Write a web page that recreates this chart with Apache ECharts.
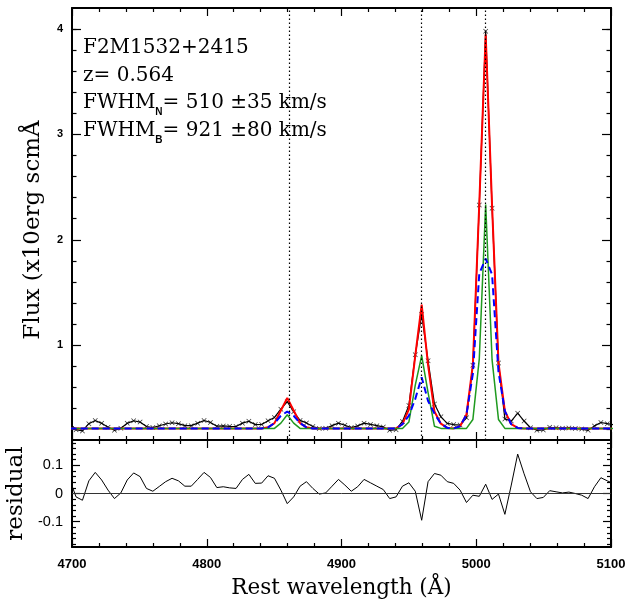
<!DOCTYPE html>
<html>
<head>
<meta charset="utf-8">
<script src="https://cdn.jsdelivr.net/npm/echarts@6/dist/echarts.min.js"></script>
<style>
html,body{margin:0;padding:0;background:#fff;}
#chart{width:631px;height:605px;}
</style>
</head>
<body>
<div id="chart"></div>
<script>
// Rest wavelength grid (Å)
const wavelength = [
4698.25, 4703.00, 4707.75, 4712.50, 4717.25, 4722.00, 4726.75, 4731.50, 4736.25, 4741.00,
4745.75, 4750.50, 4755.25, 4760.00, 4764.75, 4769.50, 4774.25, 4779.00, 4783.75, 4788.50,
4793.25, 4798.00, 4802.75, 4807.50, 4812.25, 4817.00, 4821.75, 4826.50, 4831.25, 4836.00,
4840.75, 4845.50, 4850.25, 4855.00, 4859.75, 4864.50, 4869.25, 4874.00, 4878.75, 4883.50,
4888.25, 4893.00, 4897.75, 4902.50, 4907.25, 4912.00, 4916.75, 4921.50, 4926.25, 4931.00,
4935.75, 4940.50, 4945.25, 4950.00, 4954.75, 4959.50, 4964.25, 4969.00, 4973.75, 4978.50,
4983.25, 4988.00, 4992.75, 4997.50, 5002.25, 5007.00, 5011.75, 5016.50, 5021.25, 5026.00,
5030.75, 5035.50, 5040.25, 5045.00, 5049.75, 5054.50, 5059.25, 5064.00, 5068.75, 5073.50,
5078.25, 5083.00, 5087.75, 5092.50, 5097.25, 5102.00
];
// Observed flux
const flux = [
0.260, 0.198, 0.186, 0.255, 0.285, 0.258, 0.222, 0.192, 0.212, 0.258,
0.283, 0.270, 0.228, 0.218, 0.235, 0.252, 0.264, 0.255, 0.236, 0.236,
0.260, 0.285, 0.267, 0.231, 0.234, 0.230, 0.228, 0.260, 0.278, 0.246,
0.247, 0.283, 0.314, 0.392, 0.464, 0.368, 0.286, 0.262, 0.228, 0.208,
0.212, 0.236, 0.260, 0.240, 0.218, 0.234, 0.260, 0.248, 0.236, 0.224,
0.192, 0.198, 0.276, 0.428, 0.908, 1.290, 0.852, 0.441, 0.320, 0.257,
0.246, 0.242, 0.310, 0.810, 2.330, 3.980, 2.299, 0.830, 0.300, 0.280,
0.355, 0.280, 0.216, 0.192, 0.196, 0.220, 0.216, 0.212, 0.215, 0.210,
0.204, 0.192, 0.234, 0.266, 0.255, 0.245
];
// Total fit (red)
const totalFit = [
0.21, 0.21, 0.21, 0.21, 0.21, 0.21, 0.21, 0.21, 0.21, 0.21,
0.21, 0.21, 0.21, 0.21, 0.21, 0.21, 0.21, 0.21, 0.21, 0.21,
0.21, 0.21, 0.21, 0.21, 0.21, 0.21, 0.21, 0.21, 0.21, 0.21,
0.21, 0.22, 0.26, 0.38, 0.50, 0.38, 0.26, 0.22, 0.21, 0.21,
0.21, 0.21, 0.21, 0.21, 0.21, 0.21, 0.21, 0.21, 0.21, 0.21,
0.21, 0.21, 0.25, 0.39, 0.90, 1.385, 0.81, 0.37, 0.255, 0.215,
0.21, 0.23, 0.342, 0.816, 2.34, 3.947, 2.32, 0.832, 0.374, 0.25,
0.215, 0.21, 0.21, 0.21, 0.21, 0.21, 0.21, 0.21, 0.21, 0.21,
0.21, 0.21, 0.21, 0.21, 0.21, 0.21
];
// Narrow component (green)
const narrowFit = [
0.21, 0.21, 0.21, 0.21, 0.21, 0.21, 0.21, 0.21, 0.21, 0.21,
0.21, 0.21, 0.21, 0.21, 0.21, 0.21, 0.21, 0.21, 0.21, 0.21,
0.21, 0.21, 0.21, 0.21, 0.21, 0.21, 0.21, 0.21, 0.21, 0.21,
0.21, 0.21, 0.21, 0.26, 0.34, 0.26, 0.21, 0.21, 0.21, 0.21,
0.21, 0.21, 0.21, 0.21, 0.21, 0.21, 0.21, 0.21, 0.21, 0.21,
0.21, 0.21, 0.21, 0.27, 0.62, 0.90, 0.55, 0.23, 0.21, 0.21,
0.21, 0.21, 0.21, 0.295, 0.87, 2.335, 0.86, 0.295, 0.21, 0.21,
0.21, 0.21, 0.21, 0.21, 0.21, 0.21, 0.21, 0.21, 0.21, 0.21,
0.21, 0.21, 0.21, 0.21, 0.21, 0.21
];
// Broad component (blue dashed)
const broadFit = [
0.21, 0.21, 0.21, 0.21, 0.21, 0.21, 0.21, 0.21, 0.21, 0.21,
0.21, 0.21, 0.21, 0.21, 0.21, 0.21, 0.21, 0.21, 0.21, 0.21,
0.21, 0.21, 0.21, 0.21, 0.21, 0.21, 0.21, 0.21, 0.21, 0.21,
0.21, 0.22, 0.26, 0.33, 0.37, 0.33, 0.26, 0.22, 0.21, 0.21,
0.21, 0.21, 0.21, 0.21, 0.21, 0.21, 0.21, 0.21, 0.21, 0.21,
0.21, 0.21, 0.25, 0.33, 0.49, 0.695, 0.47, 0.35, 0.255, 0.215,
0.21, 0.23, 0.342, 0.731, 1.68, 1.822, 1.67, 0.747, 0.374, 0.25,
0.215, 0.21, 0.21, 0.21, 0.21, 0.21, 0.21, 0.21, 0.21, 0.21,
0.21, 0.21, 0.21, 0.21, 0.21, 0.21
];
// Residual
const residual = [
0.050, -0.012, -0.024, 0.045, 0.075, 0.048, 0.012, -0.018, 0.002, 0.048,
0.073, 0.060, 0.018, 0.008, 0.025, 0.042, 0.054, 0.045, 0.026, 0.026,
0.050, 0.075, 0.057, 0.021, 0.024, 0.020, 0.018, 0.050, 0.068, 0.036,
0.037, 0.063, 0.054, 0.012, -0.036, -0.012, 0.026, 0.042, 0.018, -0.002,
0.002, 0.026, 0.050, 0.030, 0.008, 0.024, 0.050, 0.038, 0.026, 0.014,
-0.018, -0.012, 0.026, 0.038, 0.008, -0.095, 0.042, 0.071, 0.065, 0.042,
0.036, 0.012, -0.032, -0.006, -0.010, 0.033, -0.021, -0.002, -0.074, 0.030,
0.140, 0.070, 0.006, -0.018, -0.014, 0.010, 0.006, 0.002, 0.005, 0.000,
-0.006, -0.018, 0.024, 0.056, 0.045, 0.035
];
// Line centres (dotted markers): Hβ, [OIII]4959, [OIII]5007
const lineCenters = [4861.3, 4958.9, 5006.8];
// Tick values
const fluxMajorTicks = [1, 2, 3, 4];
const fluxMinorTicks = [0.2, 0.4, 0.6, 0.8, 1.2, 1.4, 1.6, 1.8, 2.2, 2.4, 2.6, 2.8, 3.2, 3.4, 3.6, 3.8, 4.0];
const residMajorTicks = [-0.1, 0, 0.1];
const residMinorTicks = [-0.18, -0.16, -0.14, -0.12, -0.08, -0.06, -0.04, -0.02, 0.02, 0.04, 0.06, 0.08, 0.12, 0.14, 0.16, 0.18];
const annotation = ['F2M1532+2415', 'z= 0.564', 'FWHM{sub|N}= 510 ±35 km/s', 'FWHM{sub|B}= 921 ±80 km/s'];

const pairs = arr => wavelength.map((w, i) => [w, arr[i]]);
const black = '#000';
const serif = 'DejaVu Serif';

function xAx(grid, pos, labels) {
  return {
    gridIndex: grid, type: 'value', min: 4700, max: 5100, interval: 100, position: pos,
    axisLine: {show: true, onZero: false, lineStyle: {color: black, width: 2}},
    axisTick: {show: true, inside: true, length: 8, lineStyle: {color: black, width: 1.2}},
    minorTick: {show: true, splitNumber: 5, length: 4, lineStyle: {color: black, width: 1.2}},
    splitLine: {show: false},
    axisLabel: labels ? {show: true, color: black, fontFamily: 'Liberation Sans', fontWeight: 'bold', fontSize: 13, margin: 11, showMinLabel: true, showMaxLabel: true, formatter: v => String(v)} : {show: false}
  };
}
function yAx(grid, pos, min, max, ticks, len, line, label) {
  return {
    gridIndex: grid, type: 'value', min: min, max: max, position: pos,
    axisLine: {show: line, onZero: false, lineStyle: {color: black, width: 2}},
    axisTick: {show: true, inside: true, length: len, customValues: ticks, lineStyle: {color: black, width: 1.2}},
    splitLine: {show: false},
    axisLabel: label ? Object.assign({show: true, customValues: ticks, color: black, formatter: v => String(v)}, label) : {show: false}
  };
}

const yMain = yAx(0, 'left', 0.1, 4.2, fluxMajorTicks, 9, true, {fontFamily: 'Liberation Sans', fontWeight: 'bold', fontSize: 11, margin: 9});
yMain.name = 'Flux (x10erg scmÅ';
yMain.nameLocation = 'middle';
yMain.nameRotate = 90;
yMain.nameGap = 27;
yMain.nameTextStyle = {fontFamily: serif, fontSize: 23, color: black, padding: [0, 12, 0, 0]};

const yRes = yAx(1, 'left', -0.19, 0.19, residMajorTicks, 8, true, {fontFamily: 'Liberation Sans', fontSize: 14.5, margin: 9});
yRes.name = 'residual';
yRes.nameLocation = 'middle';
yRes.nameRotate = 90;
yRes.nameGap = 39;
yRes.nameTextStyle = {fontFamily: serif, fontSize: 23, color: black};

const xResBottom = xAx(1, 'bottom', true);
xResBottom.name = 'Rest wavelength (Å)';
xResBottom.nameLocation = 'middle';
xResBottom.nameGap = 30;
xResBottom.nameTextStyle = {fontFamily: serif, fontSize: 21.5, color: black};

const xSymbol = 'path://M0,1 L1,0 L5,4 L9,0 L10,1 L6,5 L10,9 L9,10 L5,6 L1,10 L0,9 L4,5 Z';

const option = {
  animation: false,
  backgroundColor: '#fff',
  title: {
    left: 78, top: 29,
    text: annotation.join('\n'),
    textStyle: {
      fontFamily: serif, fontSize: 20, fontWeight: 'normal', color: black, lineHeight: 27.7,
      rich: {sub: {fontFamily: 'Liberation Sans', fontSize: 10, fontWeight: 'bold', color: black, verticalAlign: 'bottom'}}
    }
  },
  grid: [
    {left: 72, right: 20, top: 8, height: 432, containLabel: false, outerBoundsMode: 'none'},
    {left: 72, right: 20, top: 440, height: 107, containLabel: false, outerBoundsMode: 'none'}
  ],
  xAxis: [xAx(0, 'bottom', false), xAx(0, 'top', false), xResBottom, xAx(1, 'top', false)],
  yAxis: [
    yMain,
    yAx(0, 'right', 0.1, 4.2, fluxMajorTicks, 9, true, null),
    yAx(0, 'left', 0.1, 4.2, fluxMinorTicks, 4.5, false, null),
    yAx(0, 'right', 0.1, 4.2, fluxMinorTicks, 4.5, false, null),
    yRes,
    yAx(1, 'right', -0.19, 0.19, residMajorTicks, 8, true, null),
    yAx(1, 'left', -0.19, 0.19, residMinorTicks, 4, false, null),
    yAx(1, 'right', -0.19, 0.19, residMinorTicks, 4, false, null)
  ],
  series: [
    {
      type: 'line', name: 'data', xAxisIndex: 0, yAxisIndex: 0, data: pairs(flux),
      symbol: 'none', lineStyle: {color: black, width: 1.2}, silent: true,
      markLine: {
        symbol: 'none', silent: true, label: {show: false},
        lineStyle: {color: black, width: 1.2, type: [1.5, 2.5]},
        data: lineCenters.map(v => ({xAxis: v}))
      }
    },
    {type: 'line', name: 'total', xAxisIndex: 0, yAxisIndex: 0, data: pairs(totalFit), symbol: 'none', lineStyle: {color: '#ff0000', width: 2}, silent: true},
    {type: 'line', name: 'narrow', xAxisIndex: 0, yAxisIndex: 0, data: pairs(narrowFit), symbol: 'none', lineStyle: {color: '#1f9a1f', width: 1.5}, silent: true},
    {type: 'line', name: 'broad', xAxisIndex: 0, yAxisIndex: 0, data: pairs(broadFit), symbol: 'none', lineStyle: {color: '#0000ff', width: 2, type: [7, 4]}, silent: true},
    {type: 'scatter', name: 'points', xAxisIndex: 0, yAxisIndex: 0, data: pairs(flux), symbol: xSymbol, symbolSize: 5, itemStyle: {color: black}, silent: true, clip: true},
    {
      type: 'line', name: 'residual', xAxisIndex: 2, yAxisIndex: 4, data: pairs(residual),
      symbol: 'none', lineStyle: {color: black, width: 1}, silent: true,
      markLine: {symbol: 'none', silent: true, label: {show: false}, lineStyle: {color: '#333', width: 1, type: 'solid'}, data: [{yAxis: 0}]}
    }
  ]
};

const chart = echarts.init(document.getElementById('chart'), null, {renderer: 'canvas'});
chart.setOption(option);
</script>
</body>
</html>
